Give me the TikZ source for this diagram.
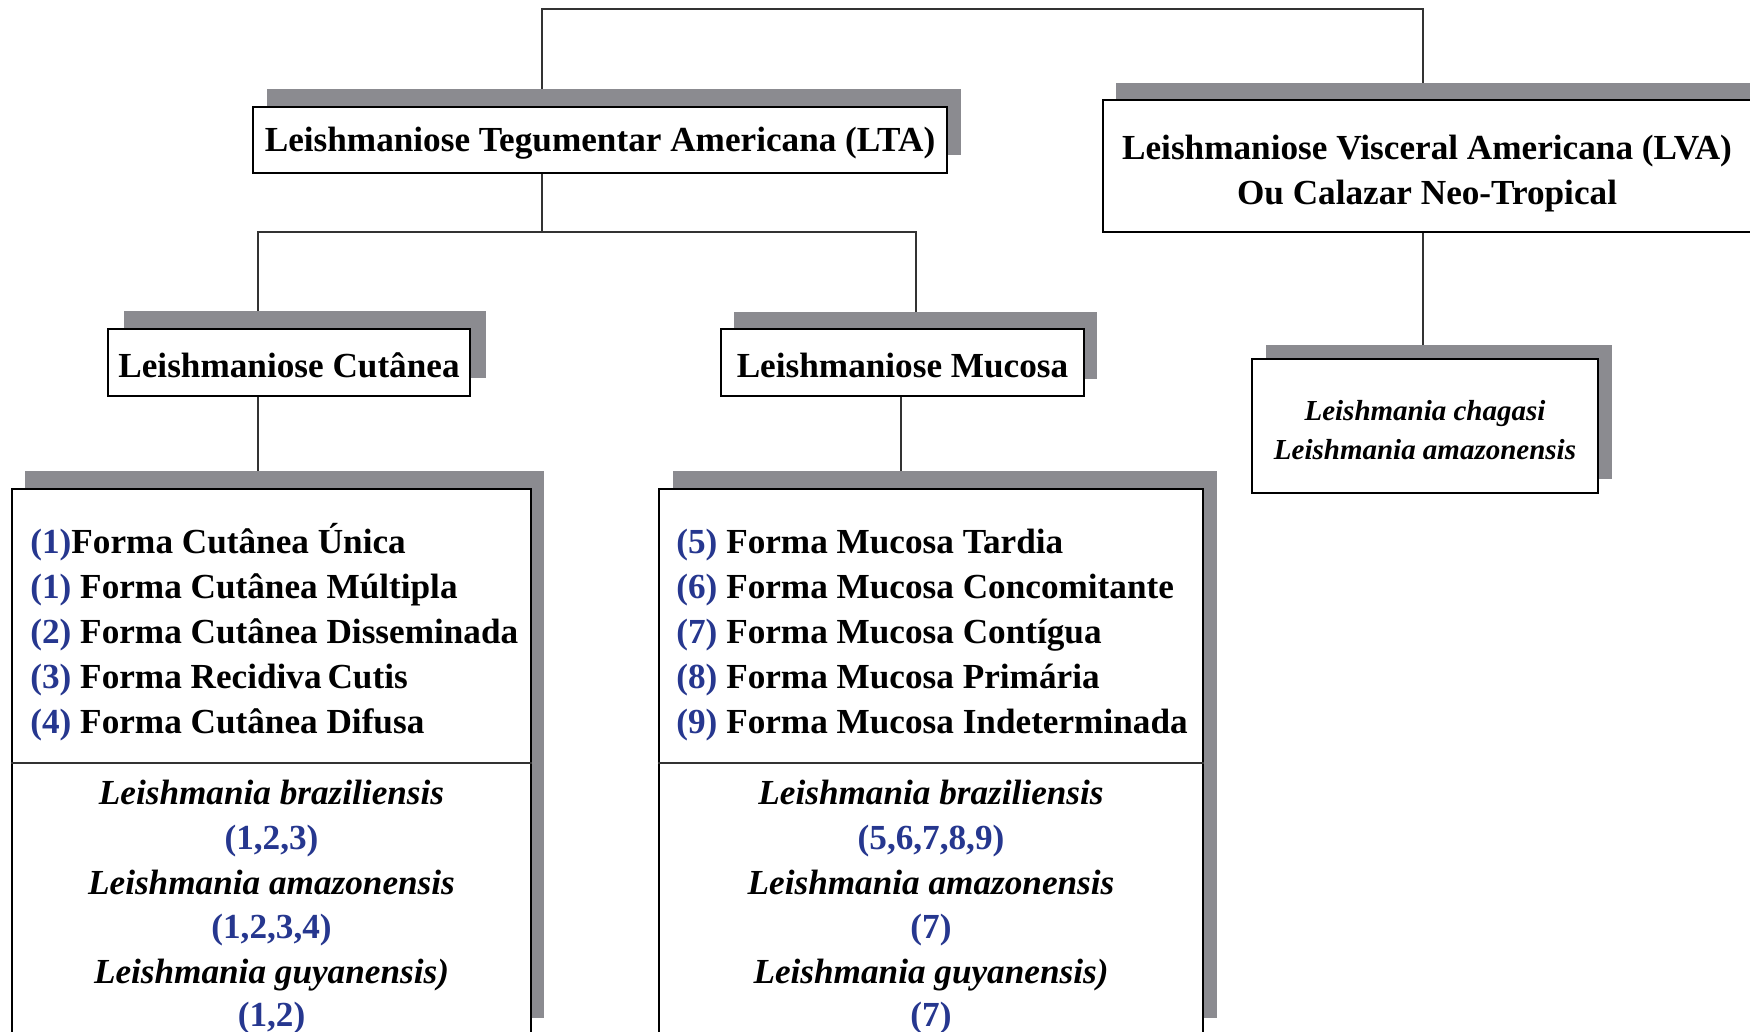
\documentclass[tikz,border=0pt]{standalone}
\usepackage{fontspec}
\setmainfont{Liberation Serif}
\usetikzlibrary{shadows,backgrounds,calc}
\definecolor{shgray}{HTML}{8B8B90}
\definecolor{numblue}{HTML}{26378F}
\definecolor{linegray}{HTML}{333333}
\newcommand{\nb}[1]{\textcolor{numblue}{#1}}
\begin{document}
\begin{tikzpicture}[x=0.5pt,y=-0.5pt,
  box/.style 2 args={draw=black, line width=1.4pt, fill=white, inner sep=0pt, align=center,
    font=\bfseries\fontsize{17.6}{22.5}\selectfont,
    general shadow={fill=shgray, shadow xshift=#1, shadow yshift=#2}},
  conn/.style={draw=linegray, line width=1pt},
  divider/.style={draw=linegray, line width=1.2pt},
  listtxt/.style={anchor=base west, inner sep=0pt, font=\bfseries\fontsize{17.6}{20}\selectfont},
  spctxt/.style={anchor=base, inner sep=0pt, font=\bfseries\itshape\fontsize{17.6}{20}\selectfont},
  numtxt/.style={anchor=base, inner sep=0pt, text=numblue, font=\bfseries\fontsize{17.6}{20}\selectfont}]
\useasboundingbox (0,0) rectangle (1750,1032);
\clip (0,0) rectangle (1750,1032);

% junction coordinates
\coordinate (jT) at (0,9);
\coordinate (jM) at (0,232);
\coordinate (jA) at (542,0);
\coordinate (jC) at (258,0);
\coordinate (jD) at (916,0);
\coordinate (jE) at (901,0);
\coordinate (jV) at (1423,0);
\coordinate (dv) at (0,763);

% boxes
\node[box={7pt}{9pt}, minimum width=347pt, minimum height=33pt,
  text height=11.7pt, text depth=0pt] (lta) at (600,140)
  {Leishmaniose Tegumentar Americana (LTA)};
\node[box={6.5pt}{8.5pt}, minimum width=324pt, minimum height=66pt,
  text height=38.7pt, text depth=0pt] (lva) at (1427,166)
  {Leishmaniose Visceral Americana (LVA)\\Ou Calazar Neo-Tropical};
\node[box={8pt}{9pt}, minimum width=181pt, minimum height=33.5pt,
  text height=15.2pt, text depth=0pt] (cut) at (289,362.5)
  {Leishmaniose Cutânea};
\node[box={6.5pt}{8.5pt}, minimum width=181.5pt, minimum height=33.5pt,
  text height=15.2pt, text depth=0pt] (muc) at (902.5,362.5)
  {Leishmaniose Mucosa};
\node[box={7pt}{7pt}, minimum width=173pt, minimum height=67pt,
  font=\bfseries\itshape\fontsize{14.5}{19.5}\selectfont,
  text height=33.3pt, text depth=0pt] (chag) at (1425,426)
  {Leishmania chagasi\\Leishmania amazonensis};
\node[box={6.5pt}{9pt}, minimum width=259.5pt, minimum height=273.5pt] (cutbig) at (271.5,762.5) {};
\node[box={7pt}{9pt}, minimum width=272pt, minimum height=273.5pt] (mucbig) at (931,762.5) {};

% dividers
\draw[divider] (cutbig.west |- dv) -- (cutbig.east |- dv);
\draw[divider] (mucbig.west |- dv) -- (mucbig.east |- dv);

% connectors
\begin{pgfonlayer}{background}
\draw[conn] (lta.north -| jA) -- (jA |- jT) -- (jV |- jT) -- (lva.north -| jV);
\draw[conn] (lta.south -| jA) -- (jA |- jM);
\draw[conn] (cut.north -| jC) -- (jC |- jM) -- (jD |- jM) -- (muc.north -| jD);
\draw[conn] (cut.south -| jC) -- (cutbig.north -| jC);
\draw[conn] (muc.south -| jE) -- (mucbig.north -| jE);
\draw[conn] (lva.south -| jV) -- (chag.north -| jV);
\end{pgfonlayer}

% cutanea list
\node[listtxt] (cl1) at (30,553) {\nb{(1)}Forma Cutânea Única};
\node[listtxt] (cl2) at (30,598) {\nb{(1)} Forma Cutânea Múltipla};
\node[listtxt] (cl3) at (30,643) {\nb{(2)} Forma Cutânea Disseminada};
\node[listtxt] (cl4) at (30,688) {\nb{(3)} Forma Recidiva\,Cutis};
\node[listtxt] (cl5) at (30,733) {\nb{(4)} Forma Cutânea Difusa};

% cutanea species
\node[spctxt] (cs1) at (271.5,804) {Leishmania braziliensis};
\node[numtxt] (cn1) at (271.5,849) {(1,2,3)};
\node[spctxt] (cs2) at (271.5,894) {Leishmania amazonensis};
\node[numtxt] (cn2) at (271.5,938) {(1,2,3,4)};
\node[spctxt] (cs3) at (271.5,983) {Leishmania guyanensis)};
\node[numtxt] (cn3) at (271.5,1026) {(1,2)};

% mucosa list
\node[listtxt] (ml1) at (676,553) {\nb{(5)} Forma Mucosa Tardia};
\node[listtxt] (ml2) at (676,598) {\nb{(6)} Forma Mucosa Concomitante};
\node[listtxt] (ml3) at (676,643) {\nb{(7)} Forma Mucosa Contígua};
\node[listtxt] (ml4) at (676,688) {\nb{(8)} Forma Mucosa Primária};
\node[listtxt] (ml5) at (676,733) {\nb{(9)} Forma Mucosa Indeterminada};

% mucosa species
\node[spctxt] (ms1) at (931,804) {Leishmania braziliensis};
\node[numtxt] (mn1) at (931,849) {(5,6,7,8,9)};
\node[spctxt] (ms2) at (931,894) {Leishmania amazonensis};
\node[numtxt] (mn2) at (931,938) {(7)};
\node[spctxt] (ms3) at (931,983) {Leishmania guyanensis)};
\node[numtxt] (mn3) at (931,1026) {(7)};
\end{tikzpicture}
\end{document}
